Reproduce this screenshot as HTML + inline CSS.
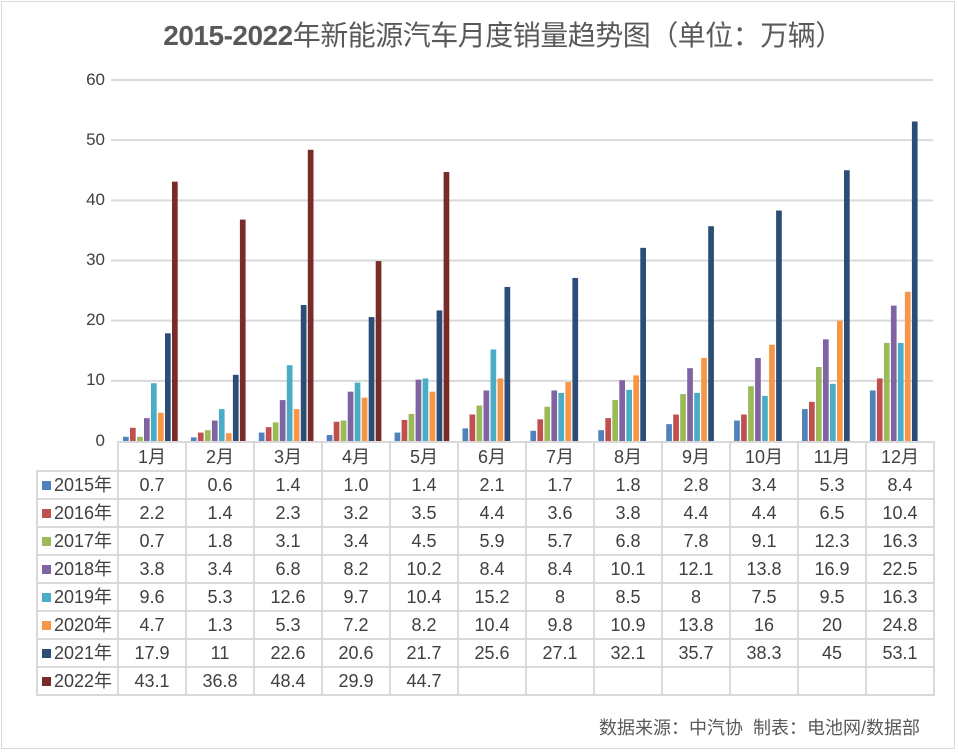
<!DOCTYPE html>
<html><head><meta charset="utf-8"><style>
body{margin:0;background:#fff;}
#c{position:relative;width:958px;height:752px;overflow:hidden;font-family:"Liberation Sans","Noto Sans CJK SC",sans-serif;}
.frame{position:absolute;left:1px;top:1px;width:954px;height:748px;border:1px solid #d9d9d9;box-sizing:border-box;}
.title{position:absolute;left:0;top:14px;width:1006px;text-align:center;font-size:28px;color:#595959;font-family:"Liberation Sans","Noto Sans CJK SC",sans-serif;letter-spacing:-0.5px;}
.title b{font-weight:bold;}
table{position:absolute;left:36px;top:441px;border-collapse:collapse;font-size:18px;color:#404040;table-layout:fixed;width:898px;}
td{border:2px solid #d9d9d9;height:26px;padding:0;text-align:center;width:66px;line-height:26px;overflow:hidden;white-space:nowrap;}
td.l{width:75px;text-align:left;padding-left:4px;border-left:2px solid #d9d9d9;}
tr.h td{height:27px;}
tr.h td.e{border:none;border-right:2px solid #d9d9d9;}
.sq{display:inline-block;width:9px;height:9px;margin-right:3px;vertical-align:1px;}
.yl{position:absolute;left:60px;width:45px;text-align:right;font-size:17px;color:#404040;}
.foot{position:absolute;right:38px;top:714px;font-size:18px;color:#595959;}
</style></head><body><div id="c">
<div class="frame"></div>
<div class="title"><b>2015-2022</b>年新能源汽车月度销量趋势图（单位：万辆）</div>
<div class="yl" style="top:70px">60</div>
<div class="yl" style="top:130px">50</div>
<div class="yl" style="top:190px">40</div>
<div class="yl" style="top:250px">30</div>
<div class="yl" style="top:310px">20</div>
<div class="yl" style="top:370px">10</div>
<div class="yl" style="top:431px">0</div>
<svg id="s" width="958" height="752" style="position:absolute;left:0;top:0"></svg>
<table>
<colgroup><col style="width:81px"><col span="12" style="width:68px"></colgroup>
<tr class="h"><td class="e"></td><td>1月</td><td>2月</td><td>3月</td><td>4月</td><td>5月</td><td>6月</td><td>7月</td><td>8月</td><td>9月</td><td>10月</td><td>11月</td><td>12月</td></tr>
<tr><td class="l"><span class="sq" style="background:#4f81bd"></span>2015年</td><td>0.7</td><td>0.6</td><td>1.4</td><td>1.0</td><td>1.4</td><td>2.1</td><td>1.7</td><td>1.8</td><td>2.8</td><td>3.4</td><td>5.3</td><td>8.4</td></tr>
<tr><td class="l"><span class="sq" style="background:#c0504d"></span>2016年</td><td>2.2</td><td>1.4</td><td>2.3</td><td>3.2</td><td>3.5</td><td>4.4</td><td>3.6</td><td>3.8</td><td>4.4</td><td>4.4</td><td>6.5</td><td>10.4</td></tr>
<tr><td class="l"><span class="sq" style="background:#9bbb59"></span>2017年</td><td>0.7</td><td>1.8</td><td>3.1</td><td>3.4</td><td>4.5</td><td>5.9</td><td>5.7</td><td>6.8</td><td>7.8</td><td>9.1</td><td>12.3</td><td>16.3</td></tr>
<tr><td class="l"><span class="sq" style="background:#8064a2"></span>2018年</td><td>3.8</td><td>3.4</td><td>6.8</td><td>8.2</td><td>10.2</td><td>8.4</td><td>8.4</td><td>10.1</td><td>12.1</td><td>13.8</td><td>16.9</td><td>22.5</td></tr>
<tr><td class="l"><span class="sq" style="background:#4bacc6"></span>2019年</td><td>9.6</td><td>5.3</td><td>12.6</td><td>9.7</td><td>10.4</td><td>15.2</td><td>8</td><td>8.5</td><td>8</td><td>7.5</td><td>9.5</td><td>16.3</td></tr>
<tr><td class="l"><span class="sq" style="background:#f79646"></span>2020年</td><td>4.7</td><td>1.3</td><td>5.3</td><td>7.2</td><td>8.2</td><td>10.4</td><td>9.8</td><td>10.9</td><td>13.8</td><td>16</td><td>20</td><td>24.8</td></tr>
<tr><td class="l"><span class="sq" style="background:#2c4d75"></span>2021年</td><td>17.9</td><td>11</td><td>22.6</td><td>20.6</td><td>21.7</td><td>25.6</td><td>27.1</td><td>32.1</td><td>35.7</td><td>38.3</td><td>45</td><td>53.1</td></tr>
<tr><td class="l"><span class="sq" style="background:#772c2a"></span>2022年</td><td>43.1</td><td>36.8</td><td>48.4</td><td>29.9</td><td>44.7</td><td></td><td></td><td></td><td></td><td></td><td></td><td></td></tr>
</table>
<div class="foot">数据来源：中汽协&nbsp;&nbsp;制表：电池网/数据部</div>
</div>
<script>
var d=[[0.7,0.6,1.4,1.0,1.4,2.1,1.7,1.8,2.8,3.4,5.3,8.4],[2.2,1.4,2.3,3.2,3.5,4.4,3.6,3.8,4.4,4.4,6.5,10.4],[0.7,1.8,3.1,3.4,4.5,5.9,5.7,6.8,7.8,9.1,12.3,16.3],[3.8,3.4,6.8,8.2,10.2,8.4,8.4,10.1,12.1,13.8,16.9,22.5],[9.6,5.3,12.6,9.7,10.4,15.2,8,8.5,8,7.5,9.5,16.3],[4.7,1.3,5.3,7.2,8.2,10.4,9.8,10.9,13.8,16,20,24.8],[17.9,11,22.6,20.6,21.7,25.6,27.1,32.1,35.7,38.3,45,53.1],[43.1,36.8,48.4,29.9,44.7]];
var c=["#4f81bd","#c0504d","#9bbb59","#8064a2","#4bacc6","#f79646","#2c4d75","#772c2a"];
var h="";
for(var g=1;g<=6;g++){var y=441-g*60.17;h+='<line x1="111" x2="933" y1="'+y+'" y2="'+y+'" stroke="#d9d9d9" stroke-width="2"/>';}
for(var s=0;s<8;s++)for(var m=0;m<d[s].length;m++){var v=d[s][m]*6.017;h+='<rect x="'+(117+m*67.9+6+s*7)+'" y="'+(441-v)+'" width="5.7" height="'+v+'" fill="'+c[s]+'"/>';}
document.getElementById("s").innerHTML=h;
</script>
</body></html>
